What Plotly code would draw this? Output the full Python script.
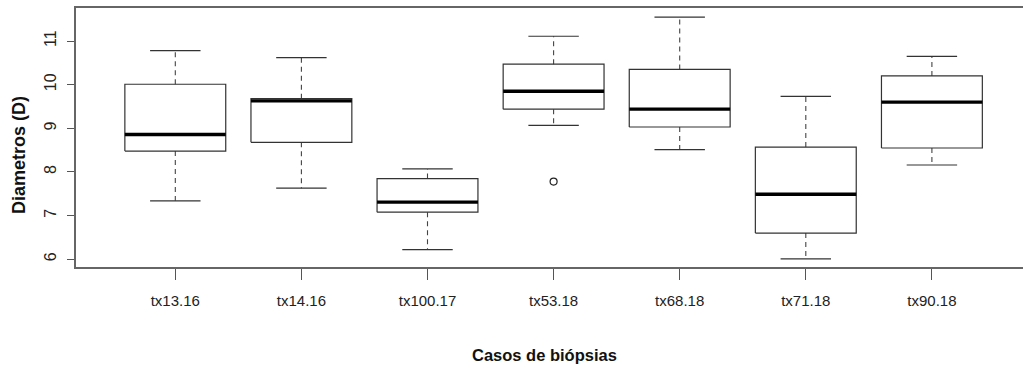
import plotly.graph_objects as go

# ---- data ----
cases = ["tx13.16", "tx14.16", "tx100.17", "tx53.18", "tx68.18", "tx71.18", "tx90.18"]
lower_whisker = [7.34, 7.63, 6.22, 9.07, 8.51, 6.01, 8.16]
q1 = [8.48, 8.68, 7.08, 9.44, 9.03, 6.60, 8.55]
median = [8.86, 9.63, 7.31, 9.85, 9.44, 7.49, 9.60]
q3 = [10.01, 9.68, 7.85, 10.47, 10.35, 8.57, 10.20]
upper_whisker = [10.78, 10.62, 8.07, 11.11, 11.55, 9.73, 10.65]
outlier_cases = ["tx53.18"]
outlier_values = [7.78]
y_ticks = [6, 7, 8, 9, 10, 11]

BOX_HALF = 0.4
CAP_HALF = 0.2

pos = list(range(len(cases)))

box_x, box_y = [], []
med_x, med_y = [], []
wh_x, wh_y = [], []
cap_x, cap_y = [], []
for i, p in enumerate(pos):
    l, r = p - BOX_HALF, p + BOX_HALF
    box_x += [l, r, r, l, l, None]
    box_y += [q1[i], q1[i], q3[i], q3[i], q1[i], None]
    med_x += [l, r, None]
    med_y += [median[i], median[i], None]
    wh_x += [p, p, None, p, p, None]
    wh_y += [q3[i], upper_whisker[i], None, q1[i], lower_whisker[i], None]
    cap_x += [p - CAP_HALF, p + CAP_HALF, None, p - CAP_HALF, p + CAP_HALF, None]
    cap_y += [upper_whisker[i], upper_whisker[i], None, lower_whisker[i], lower_whisker[i], None]

fig = go.Figure()
fig.add_trace(go.Scatter(x=wh_x, y=wh_y, mode="lines",
                         line=dict(color="#444", width=1.1, dash="5px,4px"),
                         hoverinfo="skip", showlegend=False))
fig.add_trace(go.Scatter(x=cap_x, y=cap_y, mode="lines",
                         line=dict(color="#333", width=1.2),
                         hoverinfo="skip", showlegend=False))
fig.add_trace(go.Scatter(x=box_x, y=box_y, mode="lines",
                         line=dict(color="#333", width=1.2),
                         hoverinfo="skip", showlegend=False))
fig.add_trace(go.Scatter(x=med_x, y=med_y, mode="lines",
                         line=dict(color="#000", width=3.4),
                         hoverinfo="skip", showlegend=False))
fig.add_trace(go.Scatter(x=[cases.index(c) for c in outlier_cases], y=outlier_values,
                         mode="markers",
                         marker=dict(symbol="circle-open", size=7, color="#222",
                                     line=dict(width=1.2)),
                         showlegend=False))

W, H = 1023, 368
ml, mt, mb, mr = 76, 8, 101, 0
plot_w = W - ml - mr
plot_h = H - mt - mb

# x range: index units, category spacing ~126.1 px, first category at px 175.3
spacing = 126.1
x0 = 0 - (175.3 - ml) / spacing
x1 = x0 + plot_w / spacing

fig.update_layout(
    width=W, height=H,
    margin=dict(l=ml, r=mr, t=mt, b=mb),
    paper_bgcolor="white", plot_bgcolor="white",
    showlegend=False,
    xaxis=dict(range=[x0, x1], tickvals=pos, ticktext=cases,
               showgrid=False, zeroline=False,
               showline=True, mirror=True, linecolor="#666", linewidth=1.5,
               ticks="outside", ticklen=11, tickcolor="#555", tickwidth=1.2,
               tickfont=dict(family="Liberation Sans, Arial", size=15, color="#222"),
               ticklabelstandoff=8),
    yaxis=dict(range=[5.823, 11.757], tickvals=y_ticks,
               ticktext=[str(v) for v in y_ticks],
               showgrid=False, zeroline=False,
               showline=True, mirror=False, linecolor="#666", linewidth=1.5,
               ticks="outside", ticklen=7, tickcolor="#555", tickwidth=1.2,
               tickangle=-90,
               tickfont=dict(family="Liberation Sans, Arial", size=16, color="#222"),
               ticklabelstandoff=5),
    annotations=[
        dict(text="<b>Diametros (D)</b>", textangle=-90,
             xref="paper", yref="paper",
             x=(19 - ml) / plot_w, y=(mt + plot_h - 155) / plot_h,
             xanchor="center", yanchor="middle", showarrow=False,
             font=dict(family="Liberation Sans, Arial", size=18, color="#111")),
        dict(text="<b>Casos de biópsias</b>",
             xref="paper", yref="paper",
             x=(544 - ml) / plot_w, y=(mt + plot_h - 355) / plot_h,
             xanchor="center", yanchor="middle", showarrow=False,
             font=dict(family="Liberation Sans, Arial", size=16.5, color="#111")),
    ],
)

fig.write_html("out.html")
